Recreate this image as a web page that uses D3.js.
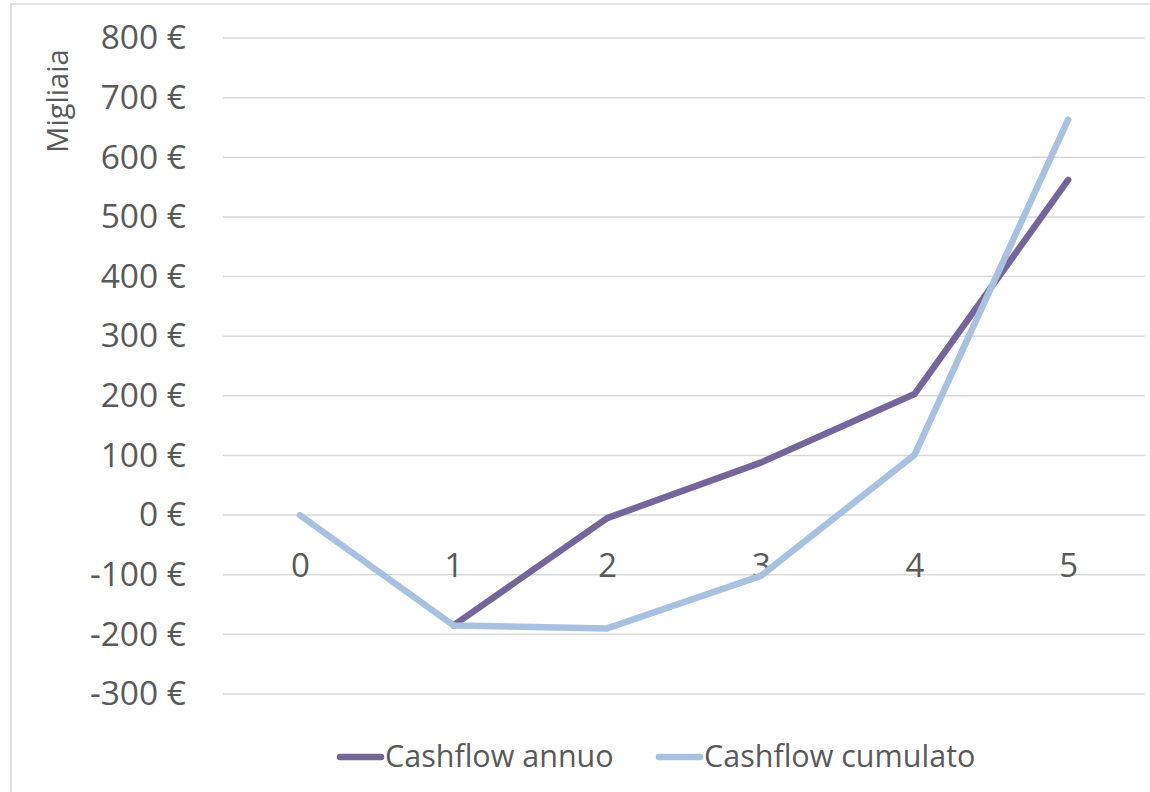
<!DOCTYPE html>
<html>
<head>
<meta charset="utf-8">
<script src="https://cdn.jsdelivr.net/npm/d3@7"></script>
<style>
  body { margin: 0; background: #fff; }
  svg { display: block; font-family: "Open Sans", sans-serif; }
</style>
</head>
<body>
<svg id="chart" width="1150" height="792"></svg>
<script>
// values in thousands of euro
const years = ["0", "1", "2", "3", "4", "5"];
const annuo = [null, -185, -5, 88, 203, 562];
const cumulato = [0, -185, -190, -102, 101, 663];
const yTicks = [-300, -200, -100, 0, 100, 200, 300, 400, 500, 600, 700, 800];
const seriesNames = ["Cashflow annuo", "Cashflow cumulato"];
const seriesColors = ["#74669b", "#a9c1e1"];

const svg = d3.select("#chart");
const margin = {top: 38, right: 5, bottom: 98, left: 223};
const width = 1150 - margin.left - margin.right;
const height = 792 - margin.top - margin.bottom;

// chart frame (right and bottom edges fall outside the picture)
svg.append("rect")
    .attr("x", 11).attr("y", 4)
    .attr("width", 1160).attr("height", 800)
    .attr("fill", "none")
    .attr("stroke", "#d9d9d9")
    .attr("stroke-width", 1.5);

const x = d3.scalePoint().domain(years).range([0, width]).padding(0.5);
const y = d3.scaleLinear().domain([-300, 800]).range([height, 0]);

const g = svg.append("g")
    .attr("transform", "translate(" + margin.left + "," + margin.top + ")");

// gridlines
g.append("g")
    .selectAll("line")
    .data(yTicks)
    .enter().append("line")
      .attr("x1", 0).attr("x2", width)
      .attr("y1", d => y(d)).attr("y2", d => y(d))
      .attr("stroke", "#d9d9d9")
      .attr("stroke-width", 1.5);

// y axis labels
const yAxis = g.append("g")
    .call(d3.axisLeft(y).tickValues(yTicks).tickSize(0).tickPadding(37)
      .tickFormat(d => d + " €"));
yAxis.select(".domain").remove();
yAxis.selectAll("text")
    .attr("font-family", "Open Sans")
    .attr("font-size", 33.5)
    .attr("fill", "#595959")
    .attr("dy", "0.32em");

// x axis labels, below the zero line
const xAxis = g.append("g")
    .attr("transform", "translate(0," + y(0) + ")")
    .call(d3.axisBottom(x).tickSize(0).tickPadding(38));
xAxis.select(".domain").remove();
xAxis.selectAll("text")
    .attr("font-family", "Open Sans")
    .attr("font-size", 33)
    .attr("fill", "#595959");

// y axis title
svg.append("text")
    .attr("transform", "translate(68,101) rotate(-90)")
    .attr("text-anchor", "middle")
    .attr("font-size", 29)
    .attr("fill", "#595959")
    .text("Migliaia");

const line = d3.line()
    .defined(d => d !== null)
    .x((d, i) => x(years[i]))
    .y(d => y(d));

[annuo, cumulato].forEach((s, i) => {
  g.append("path")
      .datum(s)
      .attr("fill", "none")
      .attr("stroke", seriesColors[i])
      .attr("stroke-width", 6.5)
      .attr("stroke-linejoin", "round")
      .attr("stroke-linecap", "round")
      .attr("d", line);
});

// legend
const legendX = [340, 659];
const legend = svg.append("g");
seriesNames.forEach((name, i) => {
  legend.append("line")
      .attr("x1", legendX[i]).attr("x2", legendX[i] + 41)
      .attr("y1", 757).attr("y2", 757)
      .attr("stroke", seriesColors[i])
      .attr("stroke-width", 6.5)
      .attr("stroke-linecap", "round");
  legend.append("text")
      .attr("x", legendX[i] + 45)
      .attr("y", 767)
      .attr("font-size", 30.5)
      .attr("fill", "#595959")
      .text(name);
});
</script>
</body>
</html>
